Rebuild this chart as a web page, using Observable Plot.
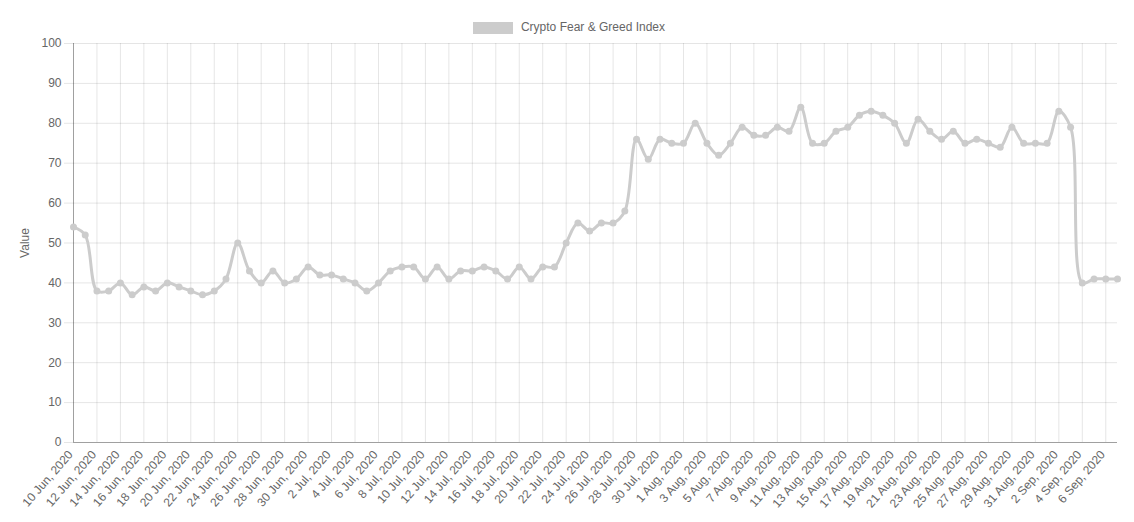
<!DOCTYPE html>
<html>
<head>
<meta charset="utf-8">
<script src="https://cdn.jsdelivr.net/npm/d3@7"></script>
<script src="https://cdn.jsdelivr.net/npm/@observablehq/plot@0.6"></script>
<style>
  html, body { margin: 0; padding: 0; background: #fff; }
  #wrap { position: relative; width: 1134px; height: 522px; font-family: "Liberation Sans", Arial, Helvetica, sans-serif; }
  #legend { position: absolute; top: 20px; left: 0; width: 1134px; display: flex; justify-content: center; align-items: center; font-size: 12px; color: #666; padding-left: 4px; box-sizing: border-box; }
  #legend .box { width: 40px; height: 12px; background: #cccccc; margin-right: 8px; margin-top: 1px; }
  svg { display: block; }
</style>
</head>
<body>
<div id="wrap">
  <div id="legend"><span class="box"></span><span>Crypto Fear &amp; Greed Index</span></div>
</div>
<script>
const seriesName = "Crypto Fear & Greed Index";
const startDate = "2020-06-10";
const endDate = "2020-09-07";
const values = [
  54, 52, 38, 38, 40, 37, 39, 38, 40, 39,
  38, 37, 38, 41, 50, 43, 40, 43, 40, 41,
  44, 42, 42, 41, 40, 38, 40, 43, 44, 44,
  41, 44, 41, 43, 43, 44, 43, 41, 44, 41,
  44, 44, 50, 55, 53, 55, 55, 58, 76, 71,
  76, 75, 75, 80, 75, 72, 75, 79, 77, 77,
  79, 78, 84, 75, 75, 78, 79, 82, 83, 82,
  80, 75, 81, 78, 76, 78, 75, 76, 75, 74,
  79, 75, 75, 75, 83, 79, 40, 41, 41, 41
];
const yTicks = [0, 10, 20, 30, 40, 50, 60, 70, 80, 90, 100];
const yLabel = "Value";

const dates = d3.utcDay.range(new Date(startDate), d3.utcDay.offset(new Date(endDate), 1));
const data = dates.map((d, i) => ({date: d, value: values[i]}));
const xTicks = dates.filter((d, i) => i % 2 === 0);
const fmt = d3.utcFormat("%-d %b, %Y");

const chart = Plot.plot({
  width: 1134,
  height: 522,
  marginLeft: 73,
  marginRight: 17,
  marginTop: 43,
  marginBottom: 80,
  style: {fontFamily: "Liberation Sans, Arial, Helvetica, sans-serif", fontSize: "12px", color: "#666", background: "transparent"},
  x: {type: "utc", domain: [dates[0], dates[dates.length - 1]]},
  y: {domain: [0, 100]},
  marks: [
    Plot.gridY(yTicks, {stroke: "#000", strokeOpacity: 0.1}),
    Plot.gridX(xTicks, {stroke: "#000", strokeOpacity: 0.1}),
    Plot.ruleY([0], {stroke: "#000", strokeOpacity: 0.3}),
    Plot.ruleX([dates[0]], {stroke: "#000", strokeOpacity: 0.3}),
    Plot.axisY(yTicks, {tickSize: 9, tickPadding: 3, stroke: "#000", strokeOpacity: 0.1, fill: "#666", label: yLabel, labelAnchor: "center", labelArrow: "none", labelOffset: 53, fontSize: 12}),
    Plot.axisX(xTicks, {tickSize: 0, tickPadding: 10, tickRotate: -49, dx: -3, tickFormat: fmt, fill: "#666", label: null, fontSize: 12}),
    Plot.line(data, {x: "date", y: "value", stroke: "#cccccc", strokeWidth: 3, curve: "catmull-rom"}),
    Plot.dot(data, {x: "date", y: "value", fill: "#cccccc", r: 3.5})
  ]
});
document.getElementById("wrap").appendChild(chart);
</script>
</body>
</html>
